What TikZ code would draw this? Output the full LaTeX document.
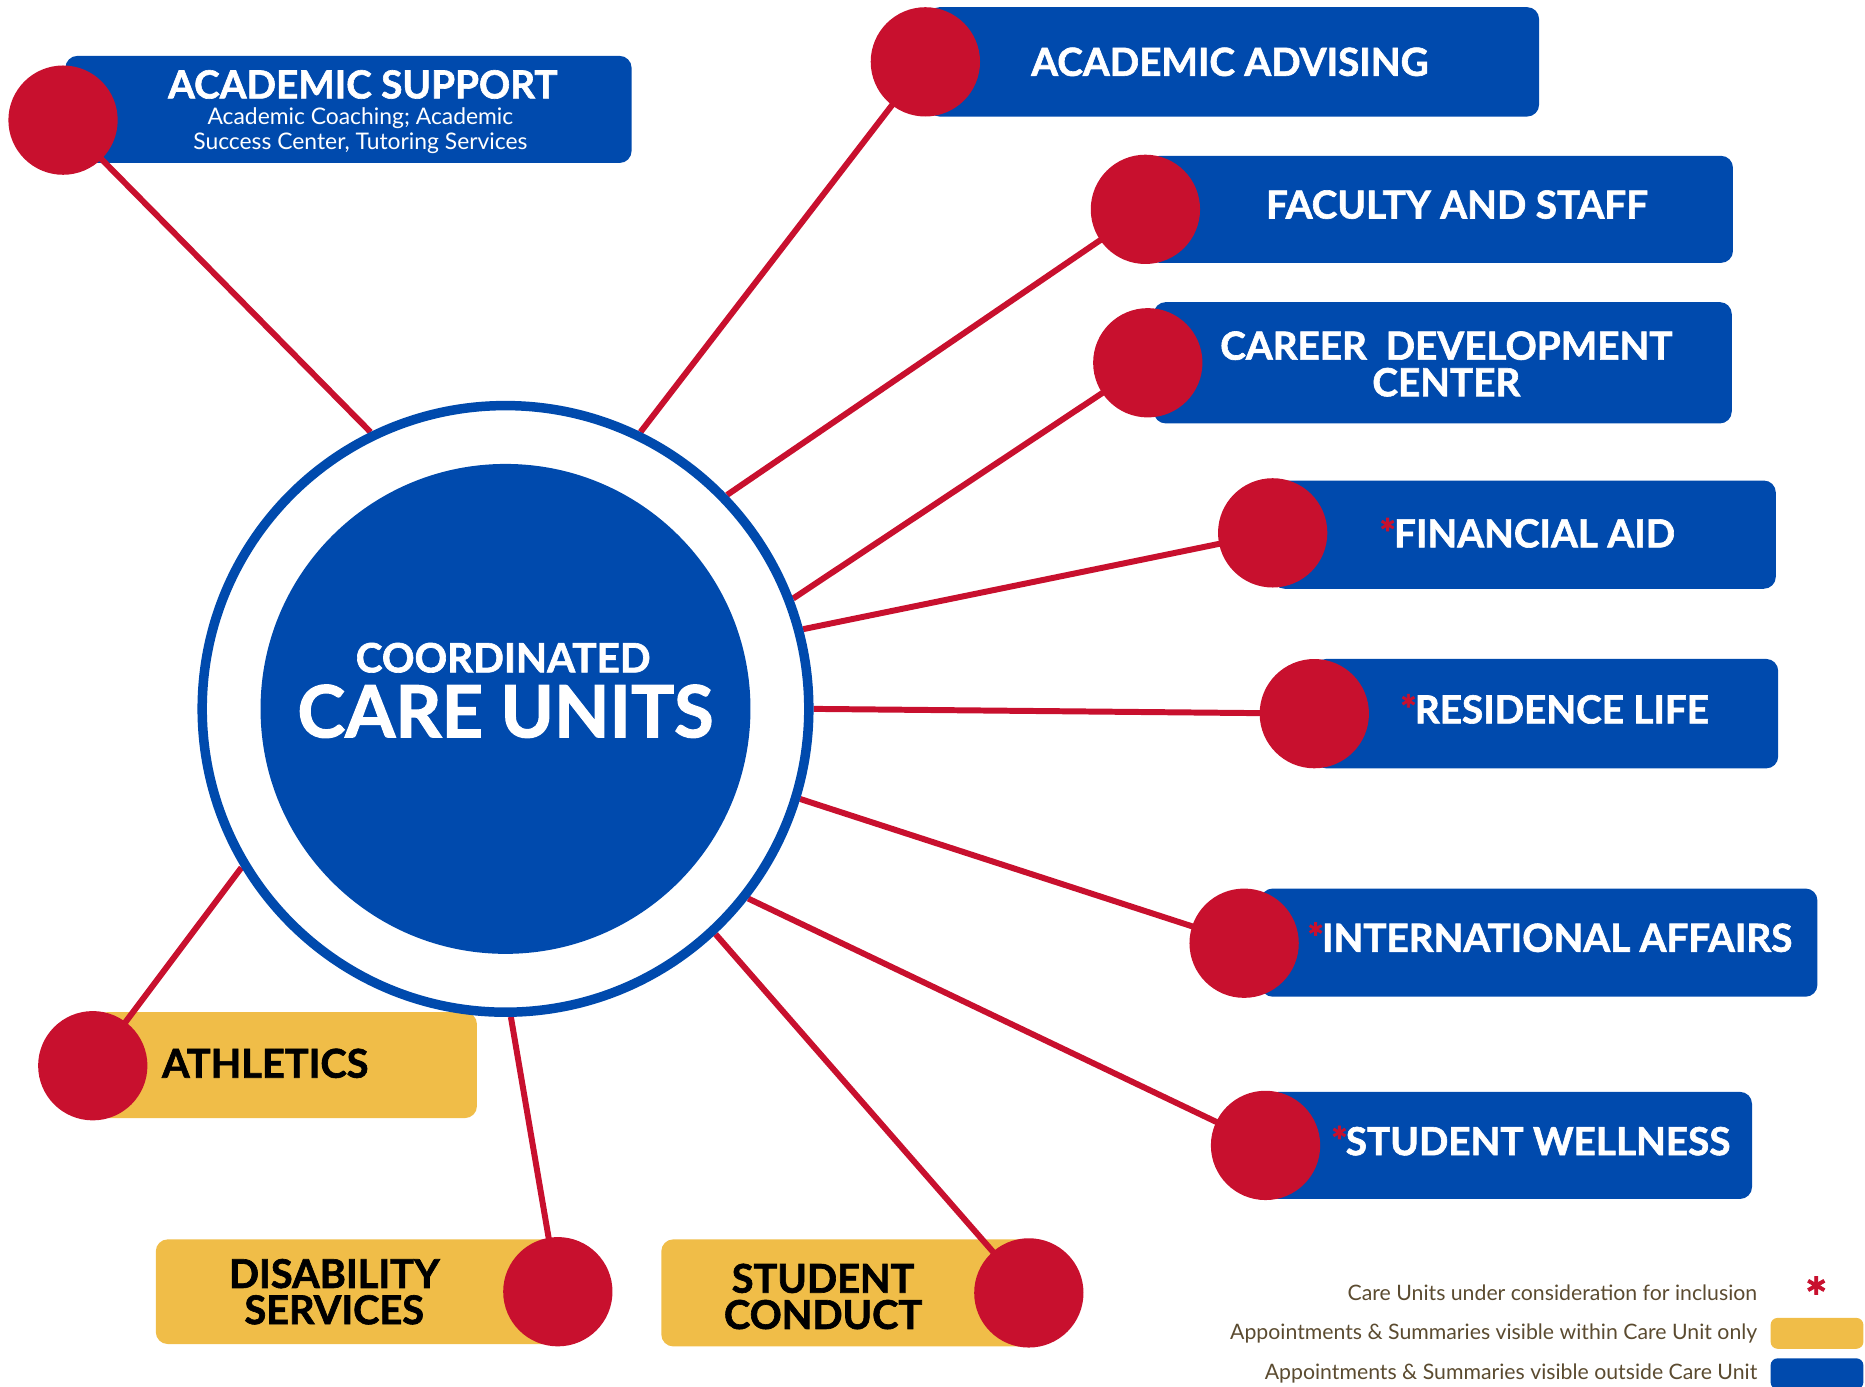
\documentclass[tikz,border=0pt]{standalone}
\usepackage{fontspec}
\setmainfont{Lato}
\newfontfamily\unitfont[BoldFeatures={FakeBold=1.6}]{Lato}
\usetikzlibrary{positioning, fit}
\definecolor{careblue}{HTML}{004AAD}
\definecolor{carered}{HTML}{C8102E}
\definecolor{careyellow}{HTML}{F0BD48}
\definecolor{keybrown}{HTML}{5B4B30}
\newcommand{\consider}{\textcolor{carered}{*}\kern-0.5pt}
\pgfdeclarelayer{boxlayer}
\pgfdeclarelayer{edgelayer}
\pgfsetlayers{boxlayer,edgelayer,main}
\tikzstyle{bluebox} = [rectangle, fill=careblue, rounded corners=3.4pt, inner sep=0pt]
\tikzstyle{yellowbox} = [bluebox, fill=careyellow]
\tikzstyle{unitdot} = [circle, fill=carered, minimum size=31.1pt, inner sep=0pt]
\tikzstyle{unitlabel} = [font=\unitfont\bfseries\fontsize{11}{10.4}\selectfont, text=white,
    align=center, inner sep=0pt]
\tikzstyle{darklabel} = [unitlabel, text=black, font=\unitfont\bfseries\fontsize{11.3}{10.3}\selectfont]
\tikzstyle{detail} = [font=\fontsize{6.5}{7.1}\selectfont, text=white, align=center, inner sep=0pt]
\tikzstyle{keytext} = [font=\fontsize{6.05}{7}\selectfont, text=keybrown, anchor=east, inner sep=0pt]
\tikzstyle{swatch} = [rectangle, rounded corners=2pt, minimum width=26.4pt, minimum height=8.8pt,
    inner sep=0pt]
\tikzstyle{line} = [draw=carered, line width=1.7pt]

\begin{document}
\begin{tikzpicture}[x=0.33842pt, y=-0.33842pt]
        \useasboundingbox (0,0) rectangle (1568,1166);
        % Hub
        \node [circle, draw=careblue, line width=2.7pt, minimum size=172.6pt] (hub) at (425,596) {};
        \node [circle, fill=careblue, minimum size=139.4pt] (core) at (hub) {};
        \node [unitlabel, font=\unitfont\bfseries\fontsize{11.5}{11.5}\selectfont] (coordtext) at (423,553) {COORDINATED};
        \node [unitlabel, font=\unitfont\bfseries\fontsize{20.5}{20}\selectfont] (caretext) at (425,598) {CARE UNITS};
        % Place boxes
        \begin{pgfonlayer}{boxlayer}
        \node [bluebox, fit={(55,47) (531,137)}] (supportbox) {};
        \node [bluebox, fit={(780,6) (1294,98)}] (advisingbox) {};
        \node [bluebox, fit={(965,131) (1457,221)}] (facultybox) {};
        \node [bluebox, fit={(970,254) (1456,356)}] (careerbox) {};
        \node [bluebox, fit={(1070,404) (1493,495)}] (aidbox) {};
        \node [bluebox, fit={(1105,554) (1495,646)}] (residencebox) {};
        \node [bluebox, fit={(1060,747) (1528,838)}] (intlbox) {};
        \node [bluebox, fit={(1065,918) (1473,1008)}] (wellnessbox) {};
        \node [yellowbox, fit={(80,851) (401,940)}] (athleticsbox) {};
        \node [yellowbox, fit={(131,1042) (490,1130)}] (disabilitybox) {};
        \node [yellowbox, fit={(556,1042) (880,1132)}] (conductbox) {};
        \end{pgfonlayer}
        % Place dots
        \node [unitdot] (supportdot) at (53,101) {};
        \node [unitdot] (advisingdot) at (778,52) {};
        \node [unitdot] (facultydot) at (963,176) {};
        \node [unitdot] (careerdot) at (965,305) {};
        \node [unitdot] (aiddot) at (1070,448) {};
        \node [unitdot] (residencedot) at (1105,600) {};
        \node [unitdot] (intldot) at (1046,793) {};
        \node [unitdot] (wellnessdot) at (1064,963) {};
        \node [unitdot] (athleticsdot) at (78,896) {};
        \node [unitdot] (disabilitydot) at (469,1086) {};
        \node [unitdot] (conductdot) at (865,1087) {};
        % Labels
        \node [unitlabel] (supporttext) at (305,71) {ACADEMIC SUPPORT};
        \node [detail] (supportdetail) at (303,110) {Academic Coaching; Academic\\Success Center, Tutoring Services};
        \node [unitlabel] (advisingtext) at (1034,52) {ACADEMIC ADVISING};
        \node [unitlabel] (facultytext) at (1225,172) {FACULTY AND STAFF};
        \node [unitlabel] (careertext) at (1216,306) {CAREER\ \ DEVELOPMENT\\CENTER};
        \node [unitlabel] (aidtext) at (1284,448) {\consider FINANCIAL AID};
        \node [unitlabel] (residencetext) at (1307,596) {\consider RESIDENCE LIFE};
        \node [unitlabel] (intltext) at (1303,788) {\consider INTERNATIONAL AFFAIRS};
        \node [unitlabel] (wellnesstext) at (1287,959) {\consider STUDENT WELLNESS};
        \node [darklabel] (athleticstext) at (223,894) {ATHLETICS};
        \node [darklabel] (disabilitytext) at (281,1086) {DISABILITY\\SERVICES};
        \node [darklabel] (conducttext) at (692,1090) {STUDENT\\CONDUCT};
        % Key
        \node [keytext] (key1) at (1478,1087) {Care Units under consideration for inclusion};
        \node [keytext] (key2) at (1478,1121) {Appointments \& Summaries visible within Care Unit only};
        \node [keytext] (key3) at (1478,1155) {Appointments \& Summaries visible outside Care Unit};
        \node [text=carered, font=\unitfont\bfseries\fontsize{15}{15}\selectfont, inner sep=0pt] (keystar) at (1527,1090) {*};
        \node [swatch, fill=careyellow, right=3.4pt of key2] (keyyellow) {};
        \node [swatch, fill=careblue, right=3.4pt of key3] (keyblue) {};
        % Draw edges
        \begin{pgfonlayer}{edgelayer}
        \path [line] (hub.116) -- (supportdot.center);
        \path [line] (hub.64) -- (advisingdot.center);
        \path [line] (hub.44.7) -- (facultydot.center);
        \path [line] (hub.21.4) -- (careerdot.center);
        \path [line] (hub.15.3) -- (aiddot.center);
        \path [line] (hub.0) -- (residencedot.center);
        \path [line] (hub.-17.6) -- (intldot.center);
        \path [line] (hub.-38.2) -- (wellnessdot.center);
        \path [line] (hub.-47.2) -- (conductdot.center);
        \path [line] (hub.-89.8) -- (disabilitydot.center);
        \path [line] (hub.-149.4) -- (athleticsdot.center);
        \end{pgfonlayer}
    \end{tikzpicture}
\end{document}
